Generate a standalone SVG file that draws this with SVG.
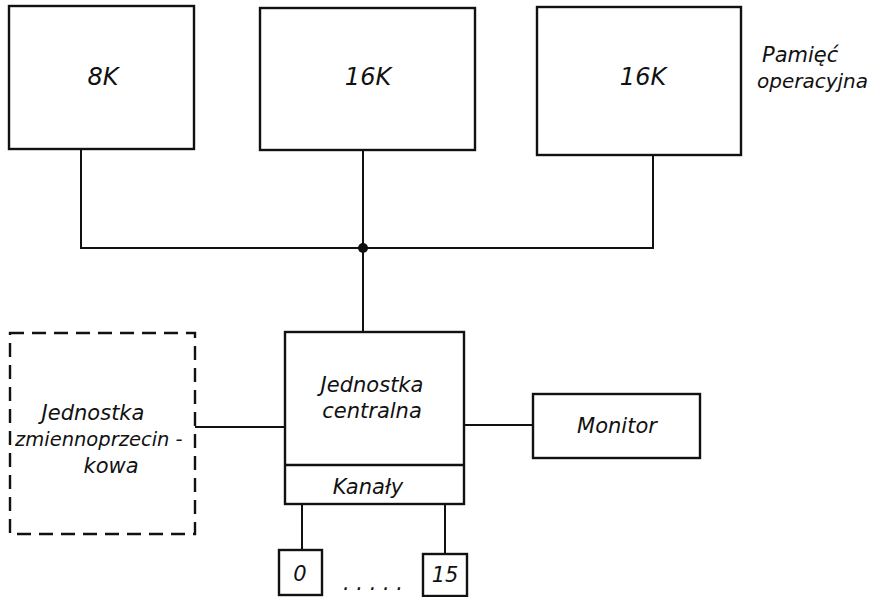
<svg xmlns="http://www.w3.org/2000/svg" width="870" height="597" viewBox="0 0 870 597">
<style>
.b{fill:none;stroke:#111;stroke-width:2.4}
.d{fill:none;stroke:#111;stroke-width:2.4;stroke-dasharray:14,8}
.c{fill:none;stroke:#111;stroke-width:2}
text{font-family:"DejaVu Sans","Liberation Sans",sans-serif;font-style:italic;fill:#111;font-weight:300}
.t{font-size:21px;text-anchor:middle}
.l{font-size:24px;text-anchor:middle}
</style>
<rect width="870" height="597" fill="#fff"/>
<g id="connectors">
<path class="c" d="M81 149V248H653V155M363 150V333"/>
<circle cx="363" cy="248" r="5" fill="#111"/>
<path class="c" d="M195 427H285M464 425H533M302 504V550M445 504V554"/>
</g>
<g id="mem8k"><rect class="b" x="9" y="6" width="185" height="143"/><text class="l" x="103" y="85">8K</text></g>
<g id="mem16k1"><rect class="b" x="260" y="8" width="215" height="142"/><text class="l" x="368" y="85">16K</text></g>
<g id="mem16k2"><rect class="b" x="537" y="7" width="204" height="148"/><text class="l" x="643" y="85">16K</text></g>
<g id="label-pamiec"><text style="font-size:21px" x="762" y="62">Pamięć</text><text style="font-size:20px" x="757" y="88">operacyjna</text></g>
<g id="fpu"><rect class="d" x="10" y="333" width="185" height="201"/>
<text class="t" x="93" y="420">Jednostka</text><text style="font-size:19.5px" x="15" y="446">zmiennoprzecin -</text><text class="t" x="111" y="473">kowa</text></g>
<g id="cpu"><rect class="b" x="285" y="332" width="179" height="172"/><line class="b" x1="285" y1="465" x2="464" y2="465"/>
<text class="t" x="372" y="392">Jednostka</text><text class="t" x="372" y="418">centralna</text><text class="t" x="368" y="494">Kanały</text></g>
<g id="monitor"><rect class="b" x="533" y="394" width="167" height="64"/><text class="t" x="617" y="433">Monitor</text></g>
<g id="ch0"><rect class="b" x="279" y="550" width="43" height="45"/><text class="t" x="300" y="581">0</text></g>
<g id="ch15"><rect class="b" x="423" y="554" width="44" height="42"/><text class="t" x="445" y="582">15</text></g>
<g id="dots"><text class="t" x="373" y="590">. . . . .</text></g>
</svg>
